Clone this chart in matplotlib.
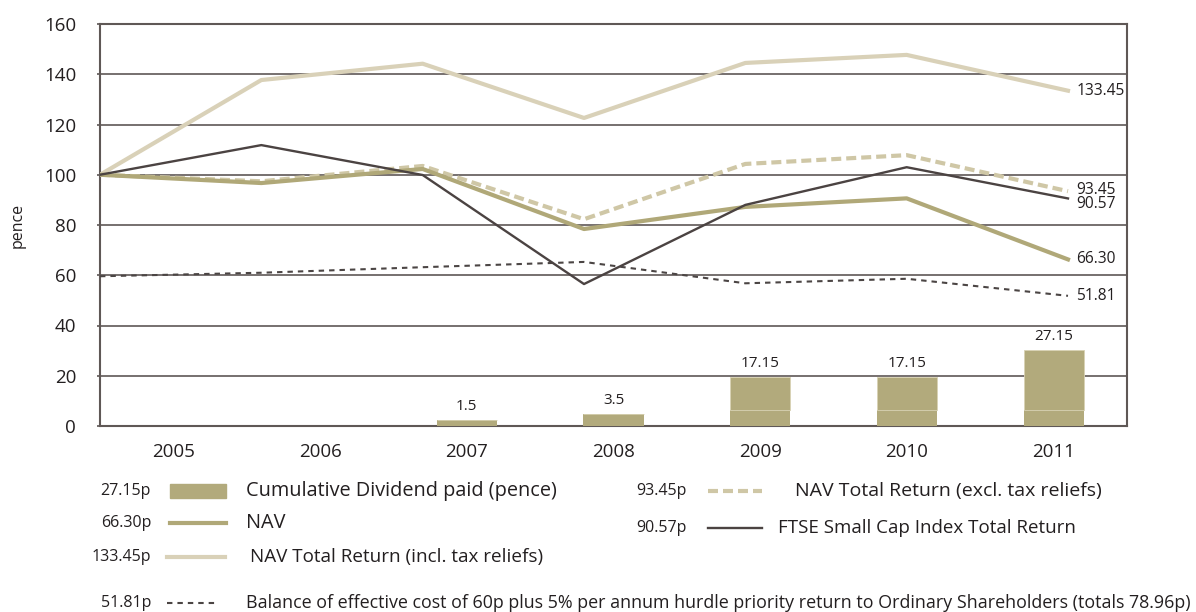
"""Dividend / NAV performance chart, 2005-2011."""

import matplotlib.pyplot as plt
from matplotlib.lines import Line2D
from matplotlib.patches import Rectangle

plt.rcParams["font.family"] = ["Open Sans", "DejaVu Sans"]

years = ["2005", "2006", "2007", "2008", "2009", "2010", "2011"]

# cumulative dividend bars (2007 onwards), drawn as two stacked parts
bar_years = [2, 3, 4, 5, 6]
bar_lower = [2.4, 4.8, 6.4, 6.4, 6.4]
bar_upper = [0.0, 0.0, 13.1, 13.1, 23.8]
bar_labels = ["1.5", "3.5", "17.15", "17.15", "27.15"]

nav_tr_incl = [100, 137.7, 144.2, 122.6, 144.5, 147.7, 133.45]
nav_tr_excl = [100, 97.4, 103.5, 82.3, 104.3, 107.8, 93.45]
nav = [100, 96.7, 102.3, 78.4, 87.2, 90.6, 66.30]
ftse = [100, 111.8, 99.9, 56.5, 88.0, 103.0, 90.57]
hurdle = [59.6, 61.0, 63.2, 65.3, 56.8, 58.6, 51.81]

C_BAR = "#b2aa7c"
C_NAV = "#b0a878"
C_INCL = "#d9d1b8"
C_EXCL = "#cfc7a6"
C_FTSE = "#4b4342"
C_HURDLE = "#4b4544"
C_GRID = "#5f5856"
C_TEXT = "#231f20"

fig = plt.figure(figsize=(11.96, 6.12), dpi=100)
ax = fig.add_axes([100 / 1196, 1 - 426 / 612, 1027 / 1196, 402 / 612])

# bars on the category axis
ax.bar(bar_years, bar_lower, width=0.41, color=C_BAR, zorder=3)
ax.bar(bar_years, bar_upper, width=0.41, bottom=bar_lower, color=C_BAR,
       edgecolor="#d8d2b4", linewidth=0.6, zorder=3)
for x, lo, up, lab in zip(bar_years, bar_lower, bar_upper, bar_labels):
    ax.text(x, lo + up + 2.5, lab, ha="center", va="bottom", fontsize=11,
            color=C_TEXT)

ax.set_xlim(-0.5, 6.5)
ax.set_ylim(0, 160)
ax.set_yticks(range(0, 161, 20))
ax.set_xticks(range(7))
ax.set_xticklabels(years)
ax.tick_params(axis="x", length=0, pad=12, labelsize=13.5, colors=C_TEXT)
ax.tick_params(axis="y", length=2.2, width=1.2, color=C_GRID, pad=15,
               labelsize=13.5, labelcolor=C_TEXT)
for lab in ax.get_yticklabels():
    lab.set_horizontalalignment("right")
ax.grid(axis="y", color=C_GRID, linewidth=1.2, zorder=0)
ax.set_axisbelow(True)
for side in ["left", "right", "bottom", "top"]:
    ax.spines[side].set_color(C_GRID)
    ax.spines[side].set_linewidth(1.5)
ax.set_ylabel("pence", fontsize=11.5, color=C_TEXT)
ax.yaxis.set_label_coords(-0.072, 0.5)

# lines run from the left spine to a bit short of the right one
lx = ax.twiny()
lx.set_xlim(0, 6 * 1027 / 968)
lx.set_xticks([])
for side in ["left", "right", "bottom", "top"]:
    lx.spines[side].set_visible(False)
xs = range(len(years))
lx.plot(xs, nav_tr_incl, color=C_INCL, linewidth=3, zorder=4)
lx.plot(xs, nav_tr_excl, color=C_EXCL, linewidth=3, dashes=(2.4, 1.2), zorder=4)
lx.plot(xs, nav, color=C_NAV, linewidth=3, zorder=5)
lx.plot(xs, ftse, color=C_FTSE, linewidth=1.7, zorder=6)
lx.plot(xs, hurdle, color=C_HURDLE, linewidth=1.5, dashes=(2.6, 2.4), zorder=4)

end_labels = [(133.45, "133.45"), (94.0, "93.45"), (88.3, "90.57"),
              (66.3, "66.30"), (51.81, "51.81")]
for yv, lab in end_labels:
    lx.annotate(lab, xy=(6, yv), xytext=(6, 0), textcoords="offset points",
                ha="left", va="center", fontsize=11.2, color=C_TEXT)

# legend, drawn by hand in pixel positions
def fx(px):
    return px / 1196


def fy(py):
    return 1 - py / 612


def legend_row(xv, xs0, xs1, xt, y, value, text, kind, size=12, **kw):
    fig.text(fx(xv), fy(y), value, ha="right", va="center", fontsize=11.5,
             color=C_TEXT)
    if kind == "bar":
        fig.add_artist(Rectangle((fx(xs0), fy(y + 7)), fx(xs1 - xs0), 14 / 612,
                                 color=C_BAR, transform=fig.transFigure))
    else:
        fig.add_artist(Line2D([fx(xs0), fx(xs1)], [fy(y), fy(y)],
                              transform=fig.transFigure, **kw))
    fig.text(fx(xt), fy(y), text, ha="left", va="center", fontsize=size,
             color=C_TEXT)


legend_row(151, 170, 226, 246, 491, "27.15p",
           "Cumulative Dividend paid (pence)", "bar", size=14.3)
legend_row(151, 170, 226, 246, 523, "66.30p", "NAV", "line", size=14.3,
           color=C_NAV, linewidth=3)
legend_row(151, 167, 225, 250, 557, "133.45p",
           "NAV Total Return (incl. tax reliefs)", "line", size=13.6,
           color=C_INCL, linewidth=3)
legend_row(151, 167, 218, 246, 603, "51.81p",
           "Balance of effective cost of 60p plus 5% per annum hurdle priority "
           "return to Ordinary Shareholders (totals 78.96p)", "line", size=12.9,
           color=C_HURDLE, linewidth=1.5, dashes=(2.6, 2.4))
legend_row(687, 708, 762, 795, 491, "93.45p",
           "NAV Total Return (excl. tax reliefs)", "line", size=14,
           color=C_EXCL, linewidth=3, dashes=(2.4, 1.2))
legend_row(687, 708, 762, 778, 528, "90.57p",
           "FTSE Small Cap Index Total Return", "line", size=13.5,
           color=C_FTSE, linewidth=1.7)

fig.savefig("out.png", dpi=100)
